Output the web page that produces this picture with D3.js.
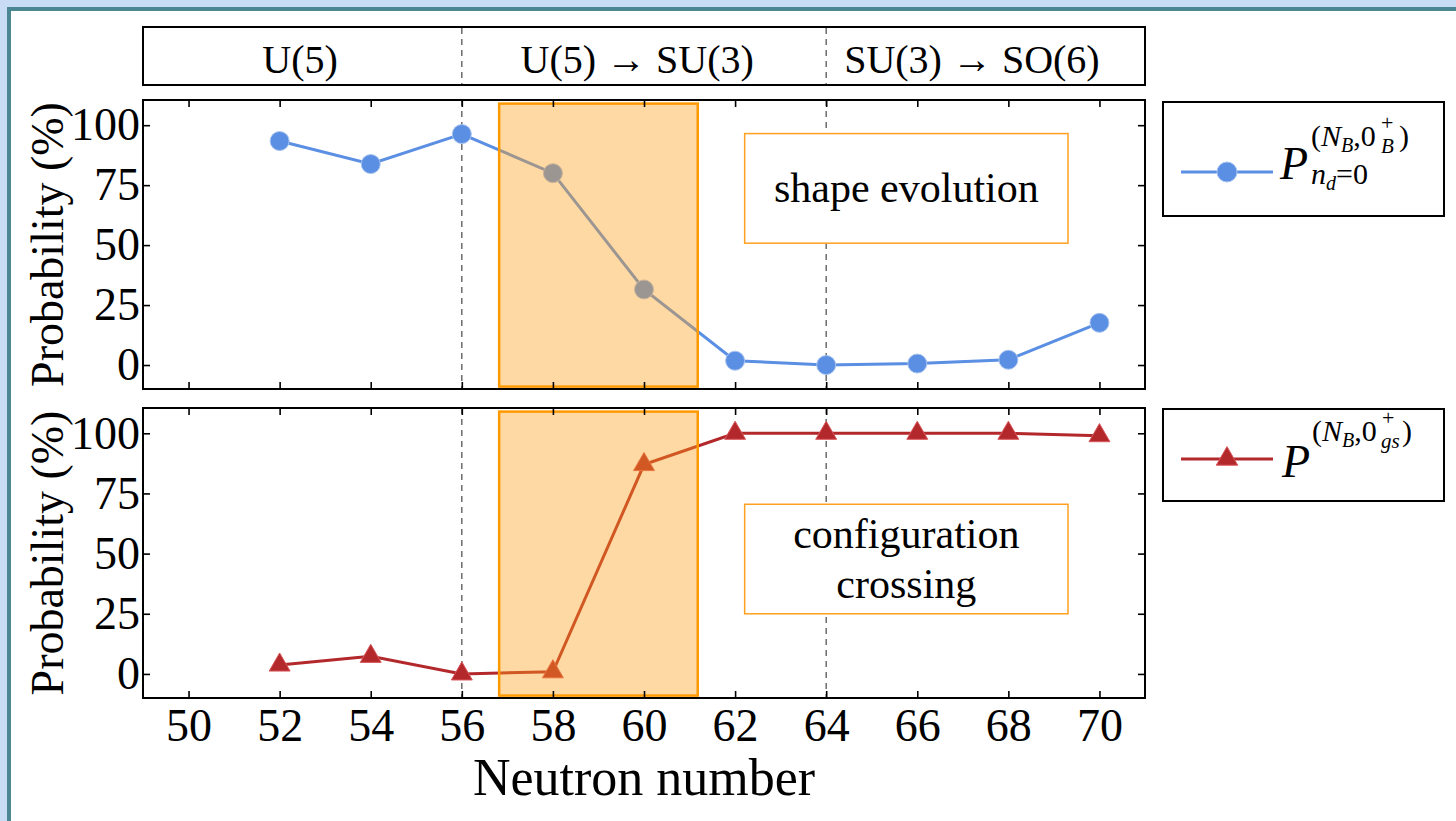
<!DOCTYPE html>
<html lang="en">
<head>
<meta charset="utf-8">
<title>Probability vs neutron number</title>
<script src="https://cdnjs.cloudflare.com/ajax/libs/d3/7.8.5/d3.min.js"></script>
<style>
  body { margin: 0; background: #c9dcf5; }
  svg { display: block; }
  text { font-family: "Liberation Serif", "Times New Roman", serif; fill: #000; }
</style>
</head>
<body>
<script>
// data
var neutrons = [52, 54, 56, 58, 60, 62, 64, 66, 68, 70];
var probShape = [93.4, 83.8, 96.3, 80, 31.5, 1.8, 0, 0.6, 2.2, 17.6];
var probConfig = [3.7, 7.3, 0, 0.9, 87, 100, 100, 100, 100, 99];
var xTicks = [50, 52, 54, 56, 58, 60, 62, 64, 66, 68, 70];
var yTicks = [0, 25, 50, 75, 100];
var regionNames = ["U(5)", "U(5) \u2192 SU(3)", "SU(3) \u2192 SO(6)"];
var regionCenters = [52.45, 59.85, 67.2];
var boundaries = [56, 64];
var highlight = [56.82, 61.18];   // orange band, neutron number range
var notes = [["shape evolution"], ["configuration", "crossing"]];

var W = 1456, H = 821;
var svg = d3.select("body").append("svg").attr("width", W).attr("height", H);

// card behind the figure
svg.append("rect")
    .attr("x", 9).attr("y", 9).attr("width", W + 20).attr("height", H + 20)
    .attr("fill", "#fff").attr("stroke", "#4a8793").attr("stroke-width", 4);

var left = 143, right = 1145;
var x = d3.scaleLinear().domain([49, 71]).range([left, right]);

// header strip with the symmetry regions
var header = svg.append("g");
header.append("rect")
    .attr("x", left).attr("y", 27).attr("width", right - left).attr("height", 58)
    .attr("fill", "#fff").attr("stroke", "#000").attr("stroke-width", 2);
header.selectAll("line.b").data(boundaries).enter().append("line")
    .attr("x1", function(d) { return x(d); }).attr("x2", function(d) { return x(d); })
    .attr("y1", 28).attr("y2", 84)
    .attr("stroke", "#555").attr("stroke-width", 1.3).attr("stroke-dasharray", "6,5");
header.selectAll("text").data(regionNames).enter().append("text")
    .attr("x", function(d, i) { return x(regionCenters[i]); })
    .attr("y", 73)
    .attr("text-anchor", "middle")
    .attr("font-size", 40)
    .text(function(d) { return d; });

var panels = [
  {top: 100, h: 289, values: probShape, color: "#5b8fe3", marker: "circle", note: notes[0],
   noteBox: [62.21, 69.31, 96.5, 50.8], labels: false},
  {top: 408, h: 290, values: probConfig, color: "#b3282b", marker: "triangle", note: notes[1],
   noteBox: [62.21, 69.31, 70.5, 25], labels: true}
];

panels.forEach(function(p) {
  var y = d3.scaleLinear().domain([-10, 110.5]).range([p.top + p.h, p.top]);
  var g = svg.append("g");

  // dashed region boundaries
  g.selectAll("line.b").data(boundaries).enter().append("line")
      .attr("x1", function(d) { return x(d); }).attr("x2", function(d) { return x(d); })
      .attr("y1", p.top).attr("y2", p.top + p.h)
      .attr("stroke", "#555").attr("stroke-width", 1.3).attr("stroke-dasharray", "6,5");

  // annotation box
  var nb = p.noteBox;
  g.append("rect")
      .attr("x", x(nb[0])).attr("y", y(nb[2]))
      .attr("width", x(nb[1]) - x(nb[0])).attr("height", y(nb[3]) - y(nb[2]))
      .attr("fill", "#fff").attr("stroke", "#ffa020").attr("stroke-width", 1.5);
  var cy = (y(nb[2]) + y(nb[3])) / 2;
  var lh = 50;
  g.selectAll("text.note").data(p.note).enter().append("text")
      .attr("x", (x(nb[0]) + x(nb[1])) / 2)
      .attr("y", function(d, i) { return cy + 14 + (i - (p.note.length - 1) / 2) * lh; })
      .attr("text-anchor", "middle")
      .attr("font-size", 42)
      .text(function(d) { return d; });

  // series line + markers
  var pts = neutrons.map(function(n, i) { return [n, p.values[i]]; });
  var line = d3.line().x(function(d) { return x(d[0]); }).y(function(d) { return y(d[1]); });
  g.append("path").datum(pts)
      .attr("d", line).attr("fill", "none")
      .attr("stroke", p.color).attr("stroke-width", 3);
  if (p.marker === "circle") {
    g.selectAll("circle.m").data(pts).enter().append("circle")
        .attr("cx", function(d) { return x(d[0]); })
        .attr("cy", function(d) { return y(d[1]); })
        .attr("r", 9.5)
        .attr("fill", p.color).attr("stroke", "#a8c3ef").attr("stroke-width", 1);
  } else {
    var tri = d3.symbol().type(d3.symbolTriangle).size(190);
    g.selectAll("path.m").data(pts).enter().append("path")
        .attr("d", tri)
        .attr("transform", function(d) { return "translate(" + x(d[0]) + "," + y(d[1]) + ")"; })
        .attr("fill", p.color).attr("stroke", "#d9585c").attr("stroke-width", 1);
  }

  // translucent highlight band over the transition
  g.append("rect")
      .attr("x", x(highlight[0])).attr("y", y(109))
      .attr("width", x(highlight[1]) - x(highlight[0]))
      .attr("height", y(-9) - y(109))
      .attr("fill", "#ff9f1a").attr("fill-opacity", 0.4)
      .attr("stroke", "#ff9900").attr("stroke-width", 2.5);

  // axes with inward ticks on all sides
  var ax = function(sel) {
    sel.select(".domain").remove();
    sel.selectAll(".tick line").attr("stroke", "#000").attr("stroke-width", 1.6);
    sel.attr("font-family", "Liberation Serif, serif").attr("font-size", 46);
  };
  g.append("g").attr("transform", "translate(0," + (p.top + p.h) + ")")
      .call(d3.axisBottom(x).tickValues(xTicks).tickSize(-7).tickPadding(10)
        .tickFormat(p.labels ? d3.format("d") : ""))
      .call(ax);
  g.append("g").attr("transform", "translate(0," + p.top + ")")
      .call(d3.axisTop(x).tickValues(xTicks).tickSize(-7).tickFormat(""))
      .call(ax);
  g.append("g").attr("transform", "translate(" + left + ",0)")
      .call(d3.axisLeft(y).tickValues(yTicks).tickSize(-7).tickPadding(3))
      .call(ax);
  g.append("g").attr("transform", "translate(" + right + ",0)")
      .call(d3.axisRight(y).tickValues(yTicks).tickSize(-7).tickFormat(""))
      .call(ax);

  g.append("rect")
      .attr("x", left).attr("y", p.top).attr("width", right - left).attr("height", p.h)
      .attr("fill", "none").attr("stroke", "#000").attr("stroke-width", 2);

  g.append("text")
      .attr("transform", "translate(63," + (p.top + p.h / 2) + ") rotate(-90)")
      .attr("text-anchor", "middle")
      .attr("font-size", 46)
      .text("Probability (%)");
});

svg.append("text")
    .attr("x", (left + right) / 2).attr("y", 795)
    .attr("text-anchor", "middle").attr("font-size", 52)
    .text("Neutron number");

// legends
function legendBox(y0, h) {
  var g = svg.append("g");
  g.append("rect").attr("x", 1163).attr("y", y0).attr("width", 281).attr("height", h)
      .attr("fill", "#fff").attr("stroke", "#000").attr("stroke-width", 2);
  return g;
}
function span(t, s, o) {
  var ts = t.append("tspan").text(s);
  Object.keys(o || {}).forEach(function(k) { ts.attr(k, o[k]); });
  return ts;
}

var lg1 = legendBox(102, 114);
lg1.append("line").attr("x1", 1181).attr("x2", 1273).attr("y1", 172).attr("y2", 172)
    .attr("stroke", panels[0].color).attr("stroke-width", 3);
lg1.append("circle").attr("cx", 1227).attr("cy", 172).attr("r", 10)
    .attr("fill", panels[0].color).attr("stroke", "#a8c3ef").attr("stroke-width", 1);
var t1 = lg1.append("text").attr("x", 1280).attr("y", 179).attr("font-size", 30);
span(t1, "P", {"font-size": 46, "font-style": "italic"});
span(t1, "(", {x: 1311, y: 146});
span(t1, "N", {"font-style": "italic"});
span(t1, "B", {"font-style": "italic", "font-size": 20, dy: 6});
span(t1, ",0", {dy: -6});
span(t1, "+", {x: 1381, y: 130, "font-size": 22});
span(t1, "B", {x: 1381, y: 153, "font-size": 21, "font-style": "italic"});
span(t1, ")", {x: 1399, y: 146});
span(t1, "n", {x: 1311, y: 184, "font-style": "italic"});
span(t1, "d", {"font-style": "italic", "font-size": 20, dy: 6});
span(t1, "=0", {dy: -6});

var lg2 = legendBox(409, 92);
lg2.append("line").attr("x1", 1181).attr("x2", 1273).attr("y1", 459).attr("y2", 459)
    .attr("stroke", panels[1].color).attr("stroke-width", 3);
lg2.append("path").attr("d", d3.symbol().type(d3.symbolTriangle).size(200))
    .attr("transform", "translate(1227,459)")
    .attr("fill", panels[1].color).attr("stroke", "#d9585c").attr("stroke-width", 1);
var t2 = lg2.append("text").attr("x", 1282).attr("y", 477).attr("font-size", 30);
span(t2, "P", {"font-size": 46, "font-style": "italic"});
span(t2, "(", {x: 1312, y: 441});
span(t2, "N", {"font-style": "italic"});
span(t2, "B", {"font-style": "italic", "font-size": 20, dy: 6});
span(t2, ",0", {dy: -6});
span(t2, "+", {x: 1382, y: 425, "font-size": 22});
span(t2, "gs", {x: 1381, y: 448, "font-size": 21, "font-style": "italic"});
span(t2, ")", {x: 1402, y: 441});
</script>
</body>
</html>
